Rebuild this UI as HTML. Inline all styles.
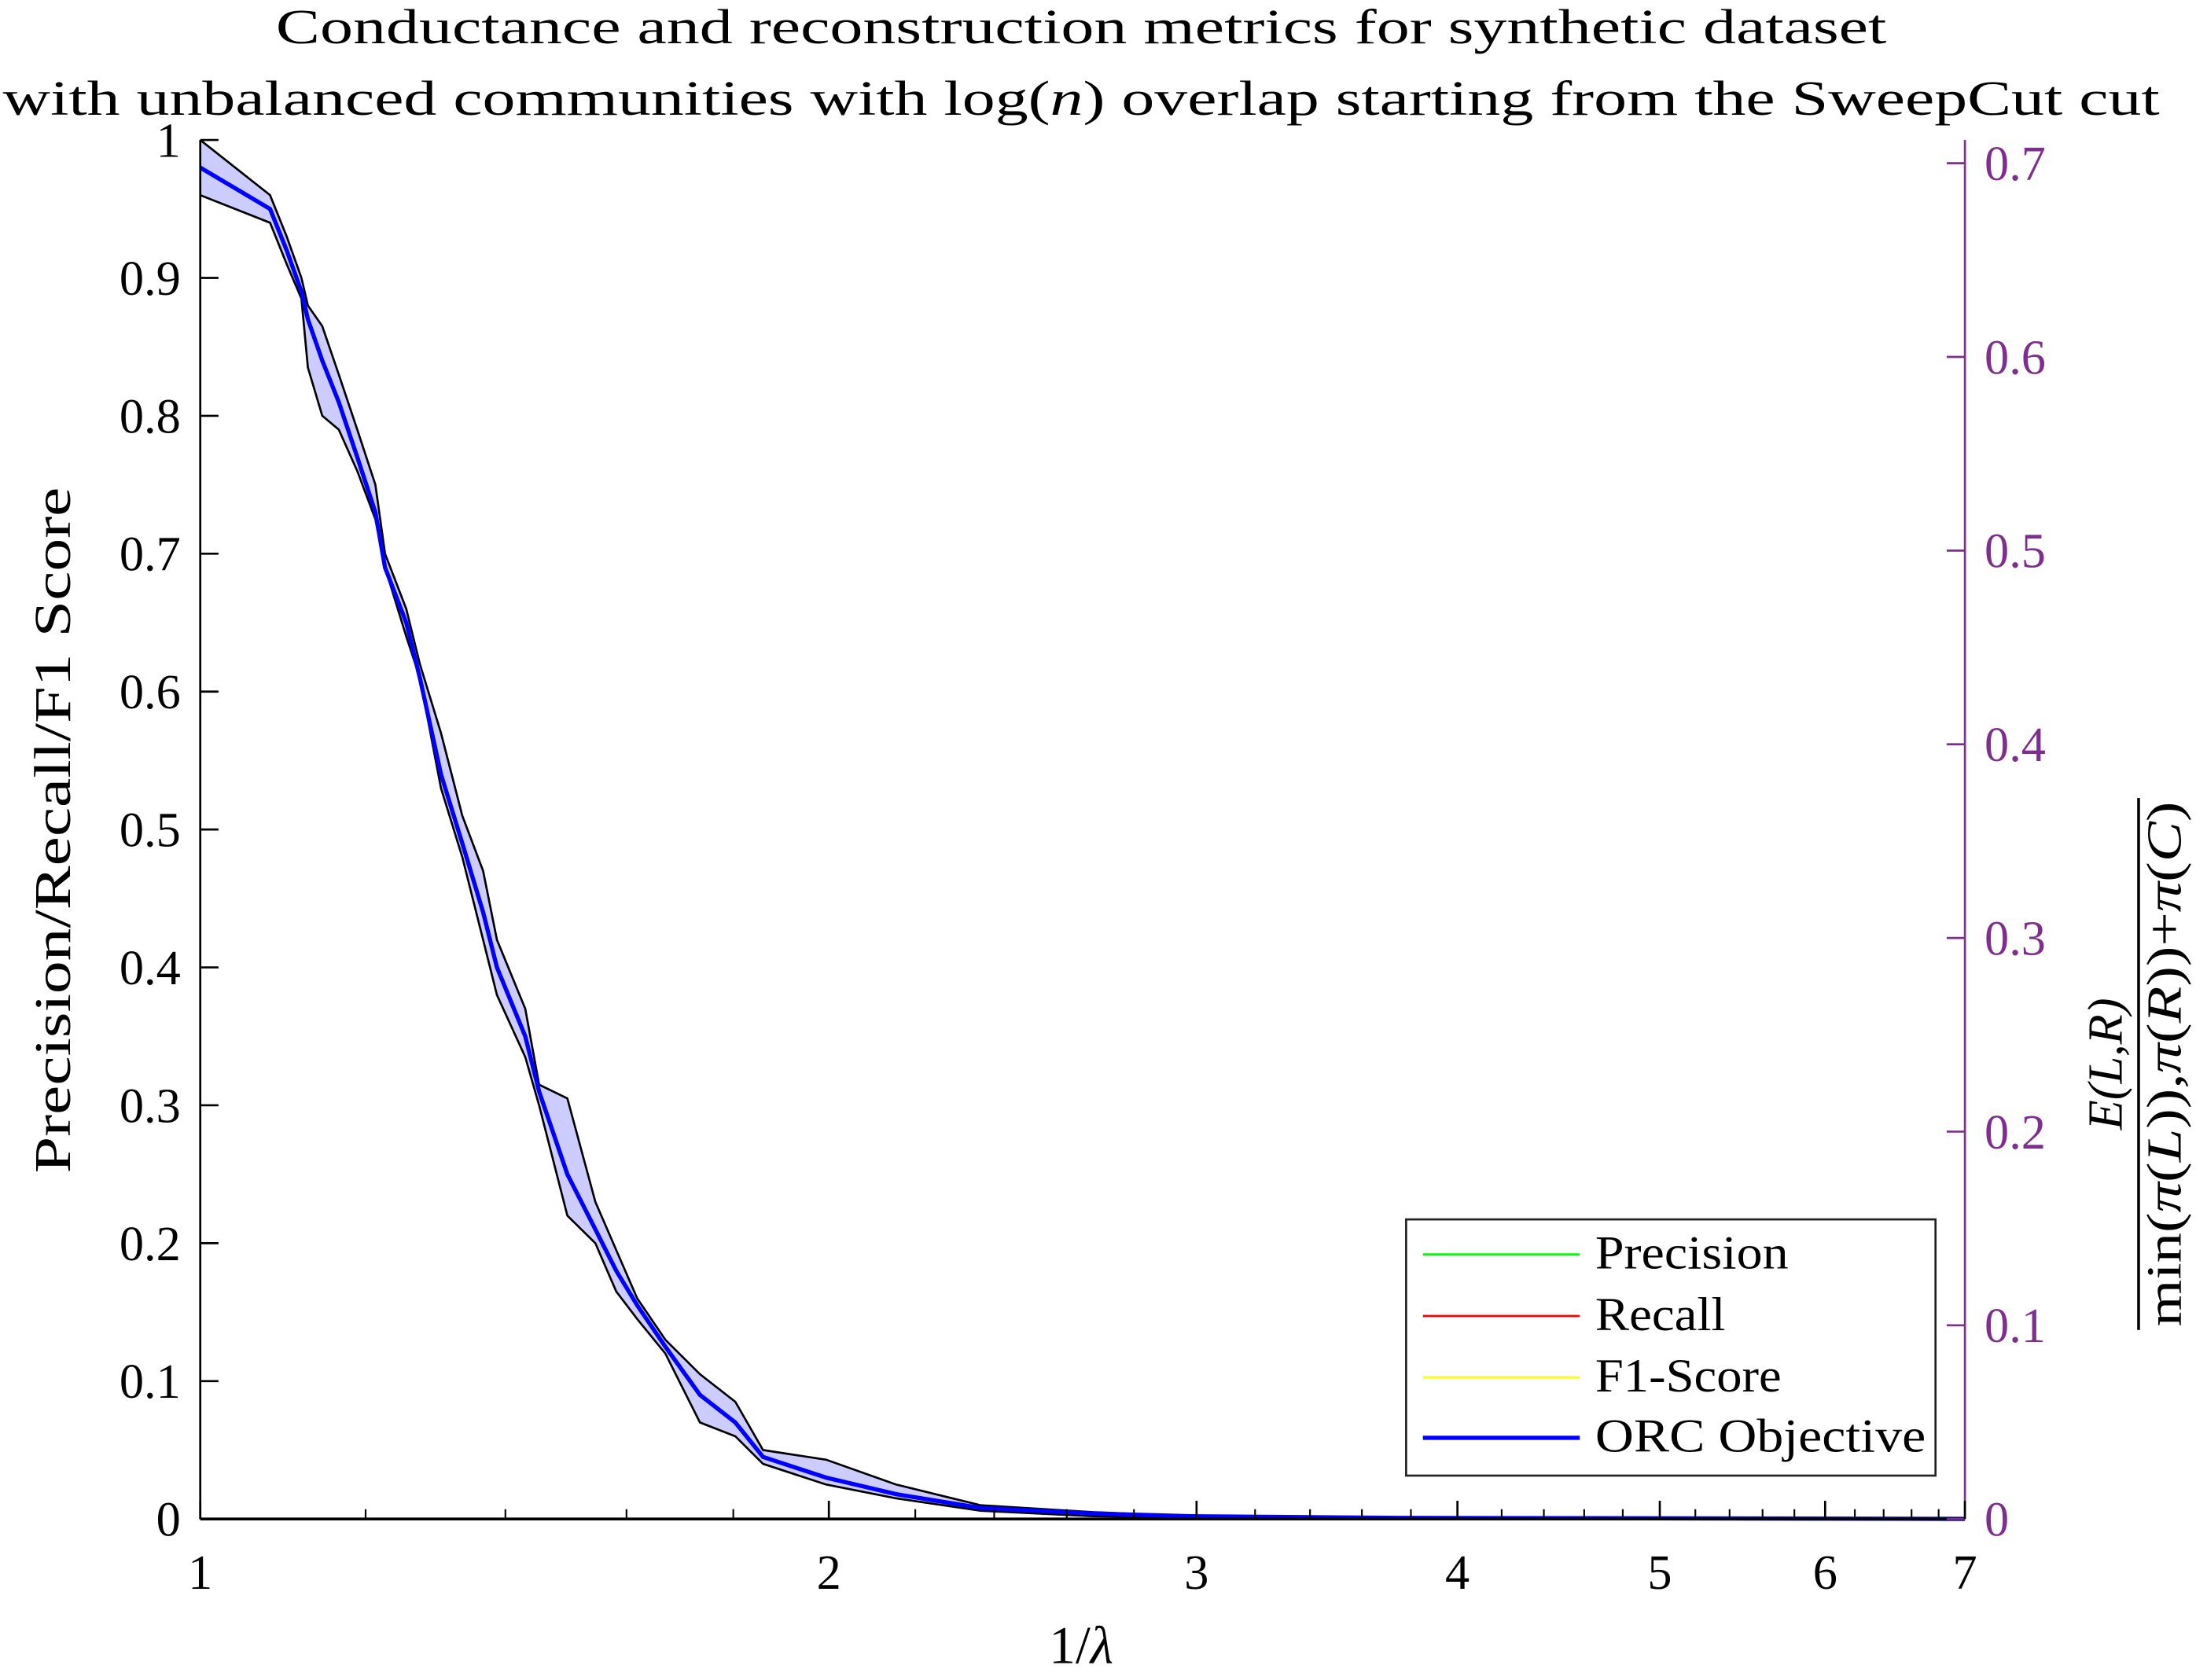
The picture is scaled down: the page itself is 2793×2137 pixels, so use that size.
<!DOCTYPE html>
<html><head><meta charset="utf-8"><style>
html,body{margin:0;padding:0;background:#fff;}
svg{display:block;}
</style></head><body>
<svg id="chart" width="2793" height="2137" viewBox="0 0 1568 1200" preserveAspectRatio="none" xmlns="http://www.w3.org/2000/svg" font-family="'Liberation Serif', 'DejaVu Serif', serif">
<rect x="0" y="0" width="1568" height="1200" fill="#fff"/>
<g font-family="'Liberation Serif', serif">
<text x="772" y="31" font-size="35" text-anchor="middle" textLength="1150" lengthAdjust="spacingAndGlyphs">Conductance and reconstruction metrics for synthetic dataset</text>
<text x="772" y="82" font-size="35" text-anchor="middle" textLength="1540" lengthAdjust="spacingAndGlyphs">with unbalanced communities with log(<tspan font-style="italic">n</tspan>) overlap starting from the SweepCut cut</text>
</g>
<g id="band"></g>
<g id="series"></g>
<g id="axes" font-family="'Liberation Serif', serif"></g>
<text x="772" y="1188" font-size="38" text-anchor="middle" font-family="'Liberation Serif', serif">1/<tspan font-style="italic">λ</tspan></text>
<text transform="translate(50,593) rotate(-90)" font-size="37" text-anchor="middle" font-family="'Liberation Serif', serif" textLength="490" lengthAdjust="spacingAndGlyphs">Precision/Recall/F1 Score</text>
<g transform="translate(1527,760) rotate(-90)" fill="#000" font-family="'Liberation Serif', serif">
<text x="0" y="-12" font-size="35" text-anchor="middle" font-style="italic">E(L,R)</text>
<line x1="-190" y1="0" x2="190" y2="0" stroke="#000" stroke-width="2"/>
<text x="0" y="30" font-size="35" text-anchor="middle" textLength="375" lengthAdjust="spacingAndGlyphs">min(<tspan font-style="italic">π</tspan>(<tspan font-style="italic">L</tspan>)),<tspan font-style="italic">π</tspan>(<tspan font-style="italic">R</tspan>))+<tspan font-style="italic">π</tspan>(<tspan font-style="italic">C</tspan>)</text>
</g>
<g font-family="'Liberation Serif', serif">
<rect x="1004" y="871" width="378" height="183" fill="#fff" stroke="#222" stroke-width="1.5"/>
<line x1="1016" y1="896" x2="1128" y2="896" stroke="#00ff00" stroke-width="1.5"/>
<text x="1139" y="906" font-size="34" textLength="138" lengthAdjust="spacingAndGlyphs">Precision</text>
<line x1="1016" y1="940" x2="1128" y2="940" stroke="#ff0000" stroke-width="1.5"/>
<text x="1139" y="950" font-size="34" textLength="93" lengthAdjust="spacingAndGlyphs">Recall</text>
<line x1="1016" y1="984" x2="1128" y2="984" stroke="#ffff00" stroke-width="1.5"/>
<text x="1139" y="994" font-size="34" textLength="133" lengthAdjust="spacingAndGlyphs">F1-Score</text>
<line x1="1016" y1="1027" x2="1128" y2="1027" stroke="#0000ff" stroke-width="3"/>
<text x="1139" y="1037" font-size="34" textLength="236" lengthAdjust="spacingAndGlyphs">ORC Objective</text>
</g>
</svg>
<script>
const xs = [1,1.08,1.10,1.118,1.126,1.144,1.165,1.189,1.213,1.226,1.255,1.274,1.304,1.335,1.366,1.387,1.431,1.453,1.499,1.546,1.582,1.619,1.670,1.735,1.804,1.860,1.994,2.154,2.364,2.675,2.98,3.757,7];
const meanVals = [0.98,0.95,0.92,0.89,0.87,0.84,0.81,0.77,0.73,0.69,0.65,0.61,0.54,0.49,0.44,0.40,0.35,0.31,0.25,0.21,0.18,0.155,0.125,0.09,0.07,0.045,0.03,0.018,0.008,0.004,0.002,0.0008,0.0001];
const upperVals = [1.0,0.96,0.93,0.90,0.88,0.865,0.83,0.79,0.75,0.70,0.66,0.62,0.57,0.51,0.47,0.42,0.37,0.315,0.305,0.23,0.195,0.16,0.13,0.105,0.085,0.05,0.043,0.025,0.01,0.005,0.002,0.001,0.0002];
const lowerVals = [0.96,0.94,0.91,0.885,0.835,0.80,0.79,0.76,0.725,0.69,0.64,0.61,0.53,0.48,0.42,0.38,0.335,0.30,0.22,0.20,0.165,0.145,0.12,0.07,0.06,0.04,0.025,0.015,0.006,0.002,0.001,0.0005,0];
const yTicks = [0,0.1,0.2,0.3,0.4,0.5,0.6,0.7,0.8,0.9,1];
const yTickLabels = ["0","0.1","0.2","0.3","0.4","0.5","0.6","0.7","0.8","0.9","1"];
const y2Ticks = [0,0.1,0.2,0.3,0.4,0.5,0.6,0.7];
const y2TickLabels = ["0","0.1","0.2","0.3","0.4","0.5","0.6","0.7"];
const xTicks = [1,2,3,4,5,6,7];
const xTickLabels = ["1","2","3","4","5","6","7"];

const L=143,R=1403,T=100,B=1085;
const NS="http://www.w3.org/2000/svg";
function xS(v){return L+(R-L)*Math.log10(v)/Math.log10(7);}
function yS(v){return B-(B-T)*v;}
function y2S(v){return B-(B-T)*v/0.712;}
function mk(tag,attrs,parent){const e=document.createElementNS(NS,tag);for(const k in attrs)e.setAttribute(k,attrs[k]);parent.appendChild(e);return e;}
const band=document.getElementById('band'),series=document.getElementById('series'),axes=document.getElementById('axes');

let up=xs.map((x,i)=>xS(x).toFixed(2)+','+yS(upperVals[i]).toFixed(2));
let lo=xs.map((x,i)=>xS(x).toFixed(2)+','+yS(lowerVals[i]).toFixed(2)).reverse();
const poly=mk('polygon',{points:up.concat(lo).join(' '),fill:'#ccccff',stroke:'none'},band);


const ul=mk('polyline',{points:up.join(' '),fill:'none',stroke:'#000','stroke-width':1.5},band);


const ll=mk('polyline',{points:lo.join(' '),fill:'none',stroke:'#000','stroke-width':1.5},band);


const ml=mk('polyline',{points:xs.map((x,i)=>xS(x).toFixed(2)+','+yS(meanVals[i]).toFixed(2)).join(' '),fill:'none',stroke:'#0000ff','stroke-width':3},series);



let a=mk('line',{x1:L,y1:T,x2:L,y2:B,stroke:'#000','stroke-width':1.5},axes);


a=mk('line',{x1:L,y1:B,x2:R,y2:B,stroke:'#000','stroke-width':2},axes);


a=mk('line',{x1:R,y1:T,x2:R,y2:B,stroke:'#7e2f8e','stroke-width':1.5},axes);


yTicks.forEach((v,i)=>{
  mk('line',{x1:L,y1:yS(v),x2:L+13,y2:yS(v),stroke:'#000','stroke-width':1.5},axes);
  const t=mk('text',{x:L-14,y:yS(v)+12,'font-size':35,'text-anchor':'end'},axes);
  t.textContent=yTickLabels[i];
  
  
});
y2Ticks.forEach((v,i)=>{
  mk('line',{x1:R-13,y1:y2S(v),x2:R,y2:y2S(v),stroke:'#7e2f8e','stroke-width':1.5},axes);
  const t=mk('text',{x:R+14,y:y2S(v)+12,'font-size':35,fill:'#7e2f8e'},axes);
  t.textContent=y2TickLabels[i];
  
  
});
xTicks.forEach((v,i)=>{
  mk('line',{x1:xS(v),y1:B,x2:xS(v),y2:B-13,stroke:'#000','stroke-width':1.5},axes);
  const t=mk('text',{x:xS(v),y:B+50,'font-size':35,'text-anchor':'middle'},axes);
  t.textContent=xTickLabels[i];
  
  
});
for(let k=1;k<7;k++){for(let j=1;j<5;j++){const v=k+j*0.2;
  mk('line',{x1:xS(v),y1:B,x2:xS(v),y2:B-7,stroke:'#000','stroke-width':1.2},axes);}}
</script>
</body></html>
